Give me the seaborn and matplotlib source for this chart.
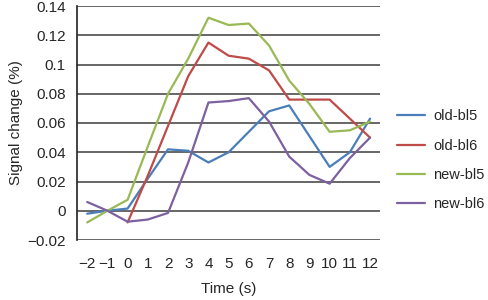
import pandas as pd
import seaborn as sns
import matplotlib.pyplot as plt
from matplotlib.ticker import FixedLocator

# time points (s)
time_s = [-2, -1, 0, 1, 2, 3, 4, 5, 6, 7, 8, 9, 10, 11, 12]

old_bl5 = [-0.002, 0.000, 0.0015, 0.022, 0.042, 0.041, 0.033, 0.040, 0.054, 0.068, 0.072, 0.051, 0.030, 0.040, 0.063]
old_bl6 = [None, None, -0.008, 0.024, 0.058, 0.092, 0.115, 0.106, 0.104, 0.096, 0.076, 0.076, 0.076, 0.063, 0.050]
new_bl5 = [-0.008, 0.000, 0.0075, 0.044, 0.080, 0.104, 0.132, 0.127, 0.128, 0.113, 0.089, 0.073, 0.054, 0.055, 0.061]
new_bl6 = [0.006, 0.000, -0.0075, -0.006, -0.0015, 0.033, 0.074, 0.075, 0.077, 0.061, 0.037, 0.0245, 0.0185, 0.036, 0.050]

series_names = ["old-bl5", "old-bl6", "new-bl5", "new-bl6"]
series_colors = ["#4a7ebb", "#be4b48", "#98b954", "#7d60a0"]

rows = []
for name, vals in zip(series_names, [old_bl5, old_bl6, new_bl5, new_bl6]):
    for t, v in zip(time_s, vals):
        if v is not None:
            rows.append({"Time": t, "Signal": v, "Series": name})
df = pd.DataFrame(rows)

sns.set_style("white")
plt.rcParams['font.family'] = ['Liberation Sans', 'DejaVu Sans']
plt.rcParams['font.size'] = 11

fig = plt.figure(figsize=(4.88, 3.0), dpi=100)
ax = fig.add_axes([0.158, 0.2, 0.621, 0.78])

# grid lines
for yv in [-0.02, 0, 0.02, 0.04, 0.06, 0.08, 0.1, 0.12, 0.14]:
    ax.axhline(yv, color="#5a5a5a", lw=1.3, zorder=1)

sns.lineplot(data=df, x="Time", y="Signal", hue="Series", hue_order=series_names,
             palette=series_colors, lw=1.6, ax=ax, zorder=3)

ax.set_xlim(-2.5, 12.5)
ax.set_ylim(-0.02, 0.14)
ax.set_yticks([-0.02, 0, 0.02, 0.04, 0.06, 0.08, 0.1, 0.12, 0.14])
ax.set_yticklabels(["\u22120.02", "0", "0.02", "0.04", "0.06", "0.08", "0.1", "0.12", "0.14"])
ax.set_xticks(time_s)
ax.set_xticklabels([str(t).replace("-", "\u2212") for t in time_s])
ax.xaxis.set_minor_locator(FixedLocator([t - 0.5 for t in time_s] + [12.5]))
ax.tick_params(axis="x", which="major", length=0, pad=12)
ax.tick_params(axis="x", which="minor", length=5, width=1, color="#333333", direction="out")
ax.tick_params(axis="y", length=6, width=1.2, color="#5a5a5a", direction="out", pad=2)

for s in ["top", "right", "bottom"]:
    ax.spines[s].set_visible(False)
ax.spines["left"].set_color("#222222")
ax.spines["left"].set_linewidth(1.2)

ax.set_xlabel("Time (s)", labelpad=8)
ax.set_ylabel("Signal change (%)", labelpad=3)

ax.legend(loc="center left", bbox_to_anchor=(1.022, 0.34), frameon=False,
          handlelength=1.9, labelspacing=1.05, handletextpad=0.6, fontsize=10.5,
          borderaxespad=0.3)

fig.savefig("out.png", dpi=100)
